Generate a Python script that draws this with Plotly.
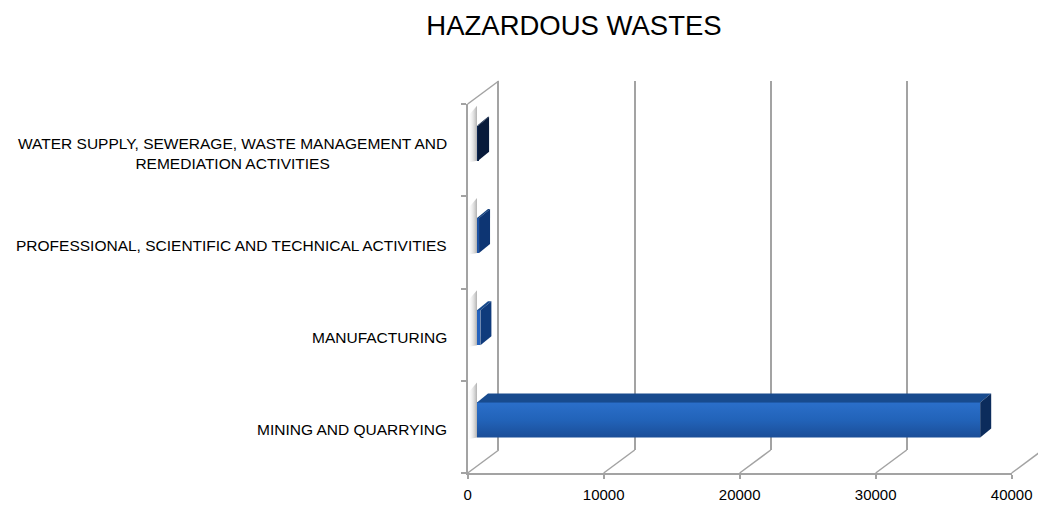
import plotly.graph_objects as go

# ---------------- data ----------------
categories = [
    "MINING AND QUARRYING",
    "MANUFACTURING",
    "PROFESSIONAL, SCIENTIFIC AND TECHNICAL ACTIVITIES",
    "WATER SUPPLY, SEWERAGE, WASTE MANAGEMENT AND<br>REMEDIATION ACTIVITIES",
]
values = [37000, 250, 150, 80]
x_ticks = [0, 10000, 20000, 30000, 40000]
title_text = "HAZARDOUS WASTES"

# ---------------- styling / geometry ----------------
W, H = 1038, 506
FX0, FX1 = 467.7, 1011.7      # front plane: pixel of 0 and 40000
FYB, FYT = 473.0, 104.0       # front plane: bottom / top pixel
DX, DY = 31.0, 23.0           # depth of the 3D box (px)
BAR_FRAC = 0.3                # depth position of bar front face
BAR_DX, BAR_DY = 11.0, 9.0    # bar thickness in depth (px)
XMAX = x_ticks[-1]
scale = (FX1 - FX0) / XMAX    # px per unit
n = len(categories)
cat_px = (FYB - FYT) / n      # px per category


def px(x):
    return x / W


def py(y):
    return 1 - y / H


front_cols = ["#2366c0", "#2462bd", "#1d52a3", "#0c2550"]
top_cols = ["#184b8e", "#174a8c", "#113f7c", "#0a1f44"]
side_cols = ["#0c2c5c", "#0f3b7c", "#0d3573", "#081a3a"]
frame_col = "#a3a3a3"
font_fam = "Liberation Sans, Arial, sans-serif"

fig = go.Figure()

idx = list(range(n))
bar_w = 35.0 / cat_px
ddx = BAR_DX / scale
ddy = BAR_DY / cat_px
off = BAR_FRAC * DX / scale

# invisible trace so that the back-wall subplot is drawn
fig.add_trace(go.Scatter(x=[0], y=[0], xaxis="x2", yaxis="y2", mode="markers",
                         marker=dict(opacity=0), hoverinfo="skip", showlegend=False))

# left-wall soft shadows (front-plane x units, bar y units)
for i, v in enumerate(values):
    yb, yt = i - bar_w / 2, i + bar_w / 2
    fig.add_trace(go.Scatter(
        x=[0, off, off, 0, 0],
        y=[yb - 0.02, yb, yt + ddy + 0.12, yt + 0.1, yb - 0.02],
        xaxis="x4", yaxis="y3", mode="lines", line=dict(width=0),
        fill="toself",
        fillgradient=dict(type="horizontal",
                          colorscale=[[0, "rgba(255,255,255,0)"], [1, "rgba(150,150,150,0.75)"]]),
        hoverinfo="skip", showlegend=False))

# bar front faces
fig.add_trace(go.Bar(
    x=values, y=idx, orientation="h", base=0, width=bar_w,
    marker=dict(color=front_cols, line=dict(width=0)),
    xaxis="x3", yaxis="y3", showlegend=False,
    hovertext=[c.replace("<br>", " ") for c in categories], hoverinfo="text+x"))

# gradient overlay on the large front face
for i, v in enumerate(values):
    if v < 1000:
        continue
    yb, yt = i - bar_w / 2, i + bar_w / 2
    fig.add_trace(go.Scatter(
        x=[0, v, v, 0, 0], y=[yb, yb, yt, yt, yb],
        xaxis="x3", yaxis="y3", mode="lines", line=dict(width=0), fill="toself",
        fillgradient=dict(type="vertical",
                          colorscale=[[0, "#1b4e98"], [0.5, "#2263b9"], [1, "#2b6fca"]]),
        hoverinfo="skip", showlegend=False))

# top and side faces
for i, v in enumerate(values):
    yb, yt = i - bar_w / 2, i + bar_w / 2
    fig.add_trace(go.Scatter(
        x=[0, v, v + ddx, ddx, 0], y=[yt, yt, yt + ddy, yt + ddy, yt],
        xaxis="x3", yaxis="y3", mode="lines", line=dict(width=0),
        fill="toself", fillcolor=top_cols[i], hoverinfo="skip", showlegend=False))
    fig.add_trace(go.Scatter(
        x=[v, v + ddx, v + ddx, v, v], y=[yb, yb + ddy, yt + ddy, yt, yb],
        xaxis="x3", yaxis="y3", mode="lines", line=dict(width=0),
        fill="toself", fillcolor=side_cols[i], hoverinfo="skip", showlegend=False))

# frame diagonals (floor + top-left edge), in front-plane units on full-width axis x4
shapes = []
depth_units = DX / scale
for t in x_ticks:
    shapes.append(dict(type="line", xref="x4", yref="paper",
                       x0=t, x1=t + depth_units, y0=py(FYB), y1=py(FYB - DY),
                       line=dict(color=frame_col, width=1.5)))
shapes.append(dict(type="line", xref="x4", yref="paper",
                   x0=0, x1=depth_units, y0=py(FYT), y1=py(FYT - DY),
                   line=dict(color=frame_col, width=1.5)))

# category labels
annotations = []
for i, c in enumerate(categories):
    annotations.append(dict(
        text=c, x=px(449), xref="paper", xanchor="right",
        y=i, yref="y", yanchor="middle", yshift=-3, align="center",
        showarrow=False, font=dict(family=font_fam, size=15.5, color="black")))

x2_start = FX0 + DX
x3_start = FX0 + BAR_FRAC * DX
y3_off = BAR_FRAC * DY

fig.update_layout(
    width=W, height=H, autosize=False,
    margin=dict(l=0, r=0, t=0, b=0, pad=0, autoexpand=False),
    paper_bgcolor="white", plot_bgcolor="rgba(0,0,0,0)",
    title=dict(text=title_text, x=px(574), xanchor="center", y=py(25), yanchor="middle",
               font=dict(family=font_fam, size=27.5, color="black")),
    shapes=shapes, annotations=annotations,
    bargap=0,
    # front plane
    xaxis=dict(domain=[px(FX0), px(FX1)], range=[0, XMAX], anchor="y",
               tickvals=x_ticks, ticktext=[str(t) for t in x_ticks],
               ticks="outside", ticklen=4, tickcolor=frame_col, tickwidth=1.5,
               ticklabelstandoff=3,
               showline=True, linecolor=frame_col, linewidth=1.5,
               showgrid=False, zeroline=False, automargin=False,
               tickfont=dict(family=font_fam, size=15, color="black")),
    yaxis=dict(domain=[py(FYB), py(FYT)], range=[-0.5, n - 0.5], anchor="x",
               tickvals=[k - 0.5 for k in range(n + 1)], showticklabels=False,
               ticks="outside", ticklen=5, tickcolor=frame_col, tickwidth=1.5,
               showline=True, linecolor=frame_col, linewidth=1.5,
               showgrid=False, zeroline=False, automargin=False),
    # back wall
    xaxis2=dict(domain=[px(x2_start), 1], range=[0, (W - x2_start) / scale], anchor="y2",
                tickvals=x_ticks, showticklabels=False, ticks="",
                showgrid=True, gridcolor=frame_col, gridwidth=1.5,
                showline=False, zeroline=False, automargin=False),
    yaxis2=dict(domain=[py(FYB - DY), py(FYT - DY)], range=[-0.5, n - 0.5], anchor="x2",
                showticklabels=False, ticks="", showgrid=False, zeroline=False,
                showline=True, linecolor=frame_col, linewidth=1.5, automargin=False),
    # bar plane
    xaxis3=dict(domain=[px(x3_start), 1], range=[0, (W - x3_start) / scale], anchor="y3",
                visible=False, automargin=False),
    yaxis3=dict(domain=[py(FYB - y3_off), py(FYT - y3_off)], range=[-0.5, n - 0.5],
                anchor="x3", visible=False, automargin=False),
    # full-width helper axis in front-plane units (for frame diagonals)
    xaxis4=dict(domain=[0, 1], range=[-FX0 / scale, (W - FX0) / scale], anchor="y3",
                visible=False, automargin=False),
)

post = (
    "document.documentElement.style.overflow='hidden';"
    "document.body.style.margin='0';document.body.style.overflow='hidden';"
)
fig.write_html("out.html", config={"displayModeBar": False}, post_script=post)
